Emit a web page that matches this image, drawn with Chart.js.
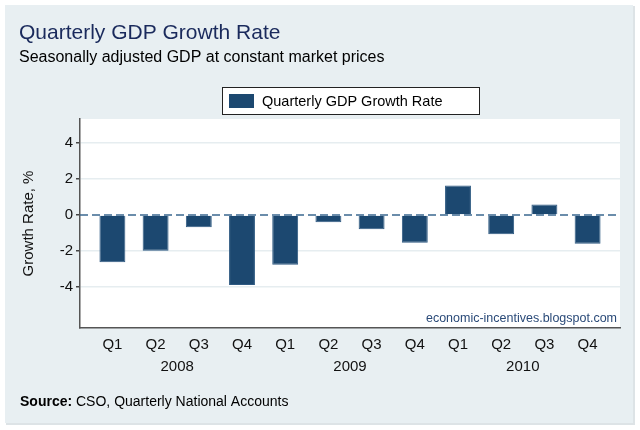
<!DOCTYPE html>
<html>
<head>
<meta charset="utf-8">
<script src="https://cdn.jsdelivr.net/npm/chart.js@4/dist/chart.umd.min.js"></script>
<style>
	html, body { margin: 0; padding: 0; background: #fff; }
	#wrap { width: 640px; height: 430px; }
</style>
</head>
<body>
<div id="wrap"><canvas id="gdpChart" width="640" height="430"></canvas></div>
<script>
// Quarterly GDP growth, seasonally adjusted

const quarters = ['Q1', 'Q2', 'Q3', 'Q4', 'Q1', 'Q2', 'Q3', 'Q4', 'Q1', 'Q2', 'Q3', 'Q4'];
const years = ['2008', '2009', '2010'];
const growth = [-2.63, -2.0, -0.69, -3.9, -2.77, -0.4, -0.8, -1.55, 1.64, -1.08, 0.58, -1.6];
const yTicks = [-4, -2, 0, 2, 4];

const BAR = '#1c4870';
const PANEL = '#e8eff2';
const FONT = 'Liberation Sans, Arial, sans-serif';

const frame = {
	id: 'frame',
	beforeDraw(chart) {
		const { ctx, chartArea: a } = chart;
		ctx.save();
		ctx.fillStyle = '#fff';
		ctx.fillRect(0, 0, chart.width, chart.height);
		ctx.fillStyle = '#dde3e6';
		ctx.fillRect(6, 6, 629, 419);
		ctx.fillStyle = PANEL;
		ctx.fillRect(5, 5, 628, 418);
		ctx.fillStyle = '#fff';
		ctx.fillRect(a.left, a.top, a.right - a.left, a.bottom - a.top);
		ctx.restore();
	},
	afterDatasetsDraw(chart) {
		const { ctx, chartArea: a, scales } = chart;
		const y0 = scales.y.getPixelForValue(0);
		ctx.save();
		// zero reference line
		ctx.strokeStyle = '#3b6890';
		ctx.lineWidth = 1.5;
		ctx.setLineDash([8, 4]);
		ctx.beginPath();
		ctx.moveTo(a.left, y0);
		ctx.lineTo(a.right, y0);
		ctx.stroke();
		ctx.setLineDash([]);

		// watermark
		ctx.fillStyle = '#2a4a78';
		ctx.font = '12.5px ' + FONT;
		ctx.textAlign = 'right';
		ctx.textBaseline = 'middle';
		ctx.fillText('economic-incentives.blogspot.com', a.right - 3, a.bottom - 9);

		// year labels under each group of quarters
		ctx.fillStyle = '#111';
		ctx.font = '15px ' + FONT;
		ctx.textAlign = 'center';
		years.forEach((yr, i) => {
			ctx.fillText(yr, scales.x.getPixelForValue(i * 4 + 1.5), 367);
		});

		// titles
		ctx.textAlign = 'left';
		ctx.textBaseline = 'alphabetic';
		ctx.fillStyle = '#1a2a5c';
		ctx.font = '21px ' + FONT;
		ctx.fillText('Quarterly GDP Growth Rate', 19, 39);
		ctx.fillStyle = '#000';
		ctx.font = '16px ' + FONT;
		ctx.fillText('Seasonally adjusted GDP at constant market prices', 19, 62);

		// legend
		ctx.fillStyle = '#fff';
		ctx.fillRect(222.5, 87.5, 257, 27);
		ctx.strokeStyle = '#222';
		ctx.lineWidth = 1;
		ctx.strokeRect(222.5, 87.5, 257, 27);
		ctx.fillStyle = BAR;
		ctx.fillRect(229, 94, 25, 14);
		ctx.fillStyle = '#000';
		ctx.font = '14.5px ' + FONT;
		ctx.textBaseline = 'middle';
		ctx.fillText('Quarterly GDP Growth Rate', 262, 101.5);

		// source note
		ctx.font = 'bold 14px ' + FONT;
		ctx.fillText('Source:', 20, 402);
		const w = ctx.measureText('Source: ').width;
		ctx.font = '14px ' + FONT;
		ctx.fillText('CSO, Quarterly National Accounts', 20 + w, 402);
		ctx.restore();
	}
};

new Chart(document.getElementById('gdpChart'), {
	type: 'bar',
	data: {
		datasets: [{
			label: 'Quarterly GDP Growth Rate',
			data: growth.map((v, i) => ({ x: i, y: v })),
			backgroundColor: BAR,
			borderColor: '#2f5a82',
			borderWidth: 1,
			barPercentage: 0.6,
			categoryPercentage: 1
		}]
	},
	options: {
		responsive: false,
		animation: false,
		layout: { padding: { top: 119, right: 20, left: 0, bottom: 0 } },
		plugins: {
			legend: { display: false },
			tooltip: { enabled: false }
		},
		scales: {
			x: {
				type: 'linear',
				offset: false,
				min: -0.75,
				max: 11.75,
				afterBuildTicks: s => { s.ticks = quarters.map((q, i) => ({ value: i })); },
				afterFit: s => { s.height = 102; },
				grid: { display: false, drawTicks: false, offset: false },
				border: { display: true, color: '#555', width: 1.5 },
				ticks: {
					autoSkip: false,
					maxRotation: 0,
					padding: 8,
					color: '#111',
					font: { family: FONT, size: 15 },
					callback: v => quarters[v]
				}
			},
			y: {
				min: -6.3,
				max: 5.35,
				afterBuildTicks: s => { s.ticks = yTicks.map(v => ({ value: v })); },
				afterFit: s => { s.width = 80; },
				grid: {
					color: c => c.tick && c.tick.value === 0 ? 'rgba(0,0,0,0)' : '#e6edf0',
					tickColor: '#444',
					tickLength: 4,
					lineWidth: 1.5
				},
				border: { display: true, color: '#555', width: 1.5 },
				ticks: {
					padding: 3,
					color: '#111',
					font: { family: FONT, size: 15 }
				},
				title: {
					display: true,
					text: 'Growth Rate, %',
					color: '#111',
					font: { family: FONT, size: 15 },
					padding: { top: 20, bottom: 0 }
				}
			}
		}
	},
	plugins: [frame]
});
</script>
</body>
</html>
